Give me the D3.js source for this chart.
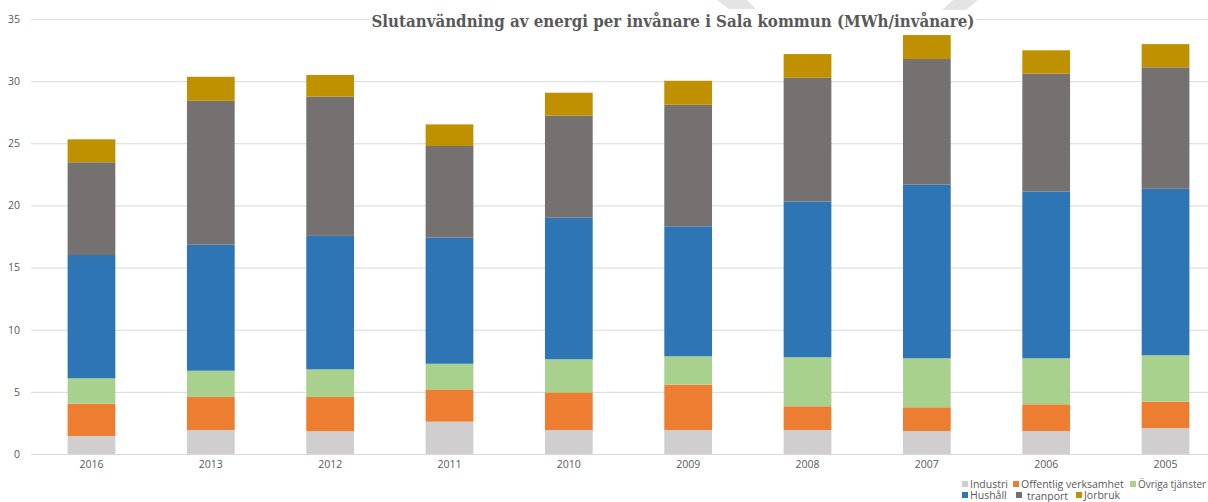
<!DOCTYPE html>
<html>
<head>
<meta charset="utf-8">
<script src="https://cdn.jsdelivr.net/npm/d3@7/dist/d3.min.js"></script>
<style>
  body { margin: 0; background: #fff; }
  svg { display: block; }
  .tick text { fill: #595959; font-family: "Open Sans", "Liberation Sans", sans-serif; }
</style>
</head>
<body>
<div id="chart-area"></div>
<script>
// years in the order they appear on the x axis
var years = ["2016","2013","2012","2011","2010","2009","2008","2007","2006","2005"];

var seriesNames = ["Industri","Offentlig verksamhet","Övriga tjänster","Hushåll","tranport","Jorbruk"];
var seriesColors = ["#d0cece","#ed7d31","#a9d18e","#2e75b6","#767171","#bf9000"];

// MWh per inhabitant
var industri   = [1.45, 1.93, 1.83, 2.60, 1.93, 1.93, 1.93, 1.85, 1.85, 2.09];
var offentlig  = [2.60, 2.66, 2.76, 2.60, 3.03, 3.65, 1.91, 1.91, 2.15, 2.12];
var ovriga     = [2.04, 2.11, 2.22, 2.06, 2.66, 2.28, 3.94, 3.94, 3.70, 3.73];
var hushall    = [9.92, 10.14, 10.74, 10.14, 11.39, 10.46, 12.52, 13.97, 13.43, 13.40];
var tranport   = [7.46, 11.58, 11.20, 7.38, 8.21, 9.78, 9.97, 10.11, 9.47, 9.77];
var jorbruk    = [1.85, 1.93, 1.75, 1.74, 1.85, 1.93, 1.91, 1.93, 1.88, 1.87];

var yTicks = [0, 5, 10, 15, 20, 25, 30, 35];

var title = "Slutanvändning av energi per invånare i Sala kommun (MWh/invånare)";

// build table for d3.stack
var seriesData = [industri, offentlig, ovriga, hushall, tranport, jorbruk];
var data = years.map(function(y, i){
  var row = {year: y};
  seriesNames.forEach(function(s, j){ row[s] = seriesData[j][i]; });
  return row;
});

var W = 1208, H = 502;

var svg = d3.select("#chart-area")
  .append("svg")
  .attr("width", W)
  .attr("height", H);

//scales
var x = d3.scaleBand()
  .domain(years)
  .range([31.8, 1225.2])
  .paddingInner(0.6)
  .paddingOuter(0.3);

var y = d3.scaleLinear()
  .domain([0, 35])
  .range([454, 19]);

// watermark shapes at the top
svg.append("polygon")
  .attr("points", "717,0 747,0 756,9 729,9")
  .attr("fill", "#e4e4e4");
svg.append("polygon")
  .attr("points", "953,0 978,0 966,10 942,10")
  .attr("fill", "#e4e4e4");

// gridlines + y labels
var yAxis = d3.axisLeft(y)
  .tickValues(yTicks)
  .tickSize(-(W - 31))
  .tickPadding(11);

var yAxisGroup = svg.append("g")
  .attr("transform", "translate(31,0)")
  .call(yAxis);
yAxisGroup.select(".domain").remove();
yAxisGroup.selectAll(".tick line")
  .attr("stroke", "#d9d9d9")
  .attr("stroke-width", 1);
yAxisGroup.selectAll(".tick text")
  .attr("font-size", "10.5px");

// x labels
var xAxisGroup = svg.append("g")
  .attr("transform", "translate(0,454)")
  .call(d3.axisBottom(x).tickSize(0).tickPadding(7));
xAxisGroup.select(".domain").remove();
xAxisGroup.selectAll(".tick text")
  .attr("font-size", "10.5px");

// stacked bars
var stack = d3.stack().keys(seriesNames);
var layers = stack(data);

svg.append("g")
  .selectAll("g")
  .data(layers)
  .enter()
  .append("g")
  .attr("fill", function(d, i){ return seriesColors[i]; })
  .selectAll("rect")
  .data(function(d){ return d; })
  .enter()
  .append("rect")
  .attr("x", function(d){ return x(d.data.year); })
  .attr("y", function(d){ return y(d[1]); })
  .attr("width", x.bandwidth())
  .attr("height", function(d){ return y(d[0]) - y(d[1]); });

// white box hiding the top gridline behind the title
var titleBox = svg.append("rect")
  .attr("fill", "#fff");

var titleText = svg.append("text")
  .attr("x", 673)
  .attr("y", 27)
  .attr("text-anchor", "middle")
  .attr("font-family", "'DejaVu Serif', 'Liberation Serif', serif")
  .attr("font-weight", "bold")
  .attr("font-size", "17px")
  .attr("fill", "#595959")
  .attr("textLength", 603)
  .attr("lengthAdjust", "spacingAndGlyphs")
  .text(title);

var bb = titleText.node().getBBox();
titleBox
  .attr("x", bb.x - 2)
  .attr("y", 15)
  .attr("width", bb.width + 4)
  .attr("height", 8);

// legend (positions as in the reference)
var legendItems = [
  {i: 0, x: 962, y: 488},
  {i: 1, x: 1013, y: 488},
  {i: 2, x: 1130, y: 488, len: 68},
  {i: 3, x: 962, y: 499},
  {i: 4, x: 1016, y: 500, tx: 1027},
  {i: 5, x: 1076, y: 499}
];

var legend = svg.append("g")
  .attr("font-family", "'Open Sans', 'Liberation Sans', sans-serif")
  .attr("font-size", "10.5px")
  .attr("fill", "#595959");

legendItems.forEach(function(d){
  legend.append("rect")
    .attr("x", d.x)
    .attr("y", (d.i == 4 ? 499 : d.y) - 7)
    .attr("width", 6)
    .attr("height", 6)
    .attr("fill", seriesColors[d.i]);
  var t = legend.append("text")
    .attr("x", d.tx ? d.tx : d.x + 8)
    .attr("y", d.y)
    .text(seriesNames[d.i]);
  if (d.len) {
    t.attr("textLength", d.len).attr("lengthAdjust", "spacingAndGlyphs");
  }
});
</script>
</body>
</html>
